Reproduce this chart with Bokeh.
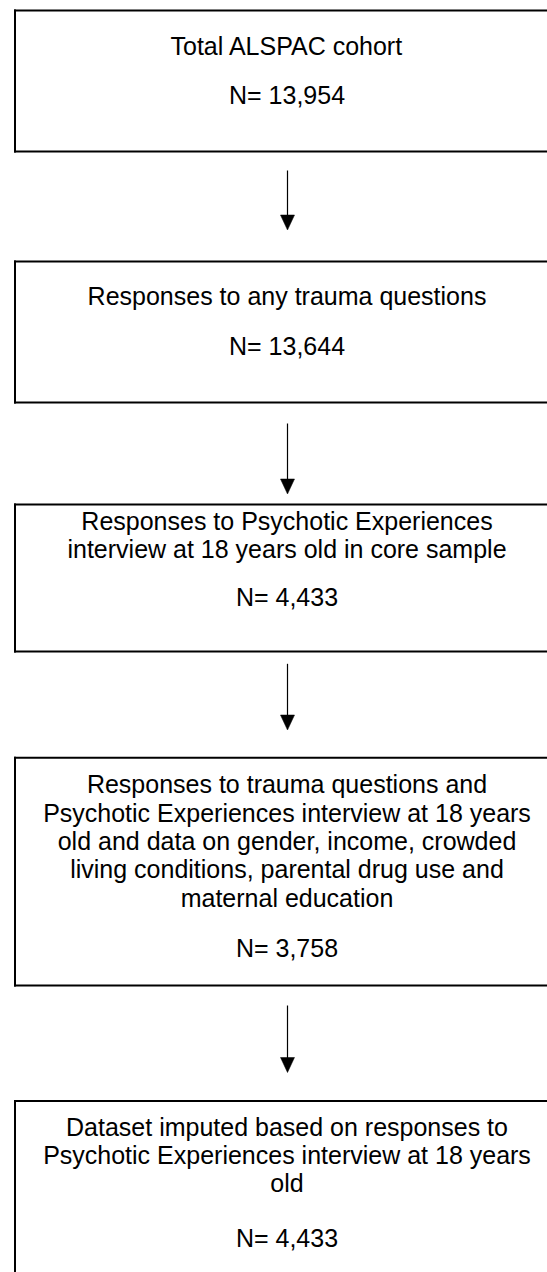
from bokeh.plotting import figure
from bokeh.models import Range1d
from bokeh.core.properties import value
from bokeh.embed import file_html
from bokeh.resources import INLINE

# ---- data ----
stage_text = [
    ["Total ALSPAC cohort"],
    ["Responses to any trauma questions"],
    ["Responses to Psychotic Experiences",
     "interview at 18 years old in core sample"],
    ["Responses to trauma questions and",
     "Psychotic Experiences interview at 18 years",
     "old and data on gender, income, crowded",
     "living conditions, parental drug use and",
     "maternal education"],
    ["Dataset imputed based on responses to",
     "Psychotic Experiences interview at 18 years",
     "old"],
]
stage_n = [13954, 13644, 4433, 3758, 4433]

# ---- layout (page pixels) ----
W, H = 547, 1272
TEXT_DY = -7
box_left = 14.5
box_right = W + 5
box_top = [10, 261, 504, 757.3, 1100.5]
box_bottom = [151, 402, 651, 985, None]
first_baseline = [52, 302.7, 527.3, 790.7, 1133]
line_step = [28.4, 28.4, 28.4, 28.4, 28.4]
n_baseline = [101.5, 352, 603, 954, 1244]
arrow_start = [170, 423, 663.3, 1005]
arrow_tip = [229.5, 493.5, 729.5, 1072]
center_x = 286.5
arrow_x = 287
head_h, head_w = 15, 14

p = figure(width=W, height=H, output_backend="svg", toolbar_location=None,
           x_axis_type=None, y_axis_type=None, min_border=0,
           x_range=Range1d(0, W), y_range=Range1d(H, 0))
p.grid.visible = False
p.outline_line_color = None
p.background_fill_color = "white"
p.border_fill_color = "white"

# box edges (open to the right, as in the cropped original)
sx0, sx1, sy0, sy1 = [], [], [], []
for t, b in zip(box_top, box_bottom):
    bb = b if b is not None else H + 10
    sx0 += [box_left, box_left]
    sx1 += [box_right, box_left]
    sy0 += [t, t]
    sy1 += [t, bb]
    if b is not None:
        sx0.append(box_left); sx1.append(box_right)
        sy0.append(b); sy1.append(b)
p.segment(x0=sx0, x1=sx1, y0=sy0, y1=sy1, line_color="black", line_width=2,
          line_cap="square")

# text
tx, ty, tt = [], [], []
for i, lines in enumerate(stage_text):
    for j, ln in enumerate(lines):
        tx.append(center_x)
        ty.append(first_baseline[i] + j * line_step[i] + TEXT_DY)
        tt.append(ln)
    tx.append(center_x)
    ty.append(n_baseline[i] + TEXT_DY)
    tt.append("N= {:,}".format(stage_n[i]))
p.text(x=tx, y=ty, text=tt, text_align="center", text_baseline="alphabetic",
       text_font=value("Liberation Sans"), text_font_size="25px", text_color="black")

# arrows
p.segment(x0=[arrow_x] * 4, x1=[arrow_x] * 4,
          y0=arrow_start, y1=[t - head_h + 1 for t in arrow_tip],
          line_color="black", line_width=1.2)
xs, ys = [], []
for t in arrow_tip:
    xs.append([arrow_x - head_w / 2, arrow_x + head_w / 2, arrow_x])
    ys.append([t - head_h, t - head_h, t])
p.patches(xs=xs, ys=ys, fill_color="black", line_color="black", line_width=0.5)

open("out.html", "w").write(file_html(p, INLINE))
